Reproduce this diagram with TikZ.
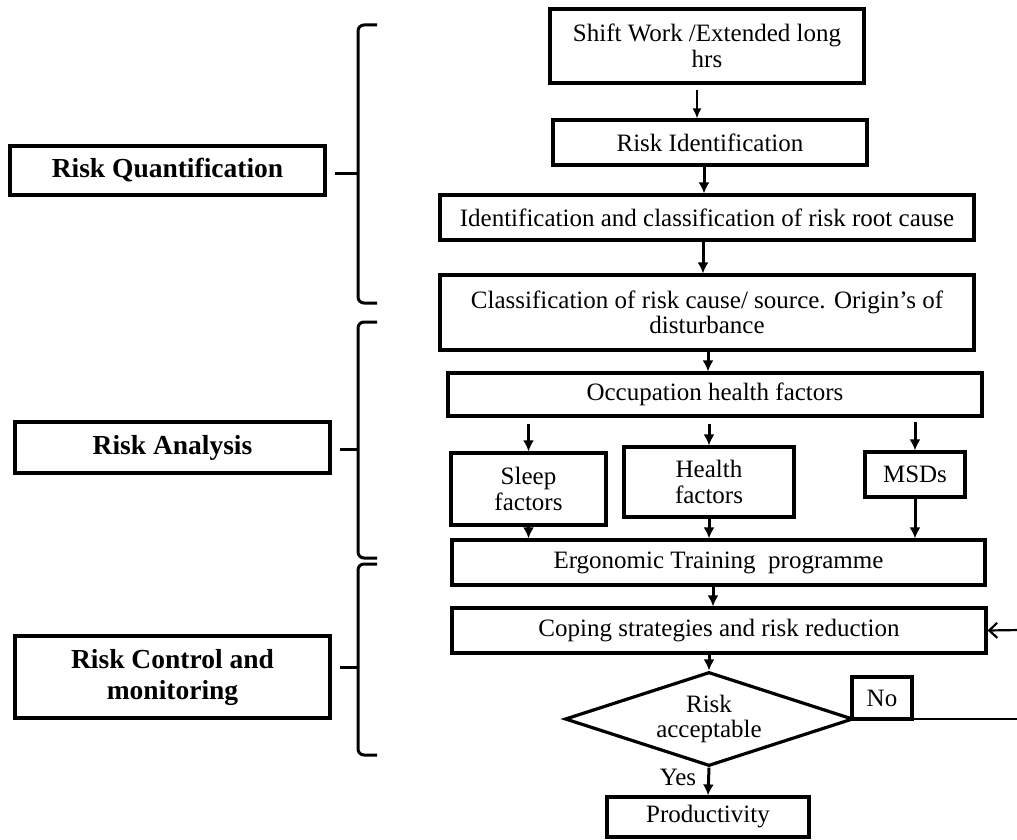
\documentclass[tikz,border=0pt]{standalone}
\usepackage{fontspec}
\setmainfont{Liberation Serif}
\usetikzlibrary{shapes.geometric, arrows.meta}

\begin{document}
\begin{tikzpicture}[x=1pt, y=-1pt,
	box/.style={draw=black, line width=3.2pt, inner sep=0pt, align=center, font=\fontsize{25}{25.5}\selectfont},
	sidebox/.style={box, line width=3.6pt, font=\fontsize{27.5}{31}\selectfont\bfseries},
	arr/.style={-{Latex[length=11pt, width=11pt]}, line width=3pt},
	thinarr/.style={-{Latex[length=10pt, width=9pt]}, line width=1.5pt},
	backarr/.style={-{Straight Barb[length=8pt, width=15pt]}, line width=2.2pt},
	brace/.style={line width=3pt, rounded corners=6pt}]

\useasboundingbox (0, 0) rectangle (1017, 840);

\node[sidebox, minimum width=315, minimum height=49] (quant) at (167.5, 170.5) {Risk Quantification};
\node[sidebox, minimum width=315, minimum height=51] (anal) at (172.5, 447.5) {Risk Analysis};
\node[sidebox, minimum width=315, minimum height=82] (ctrl) at (172.5, 677) {Risk Control and\\monitoring};

\foreach \t/\m/\b/\l in {25/173/303/335, 322/449/558/340, 564/667/755/340} {
	\draw[brace] (377, \t) -- (358, \t) -- (358, \b) -- (377, \b);
	\draw[line width=3pt] (\l, \m) -- (358, \m);
}

\node[box, minimum width=314, minimum height=74] (shift) at (707, 46) {Shift Work /Extended long\\hrs};
\node[box, minimum width=314, minimum height=45] (riskid) at (710, 142.5) {Risk Identification};
\node[box, minimum width=534, minimum height=45] (ident) at (707, 217.5) {Identification and classification of risk root cause};
\node[box, minimum width=534, minimum height=75] (classif) at (707, 312.5) {Classification of risk cause/ source. Origin’s of\\disturbance};
\node[box, minimum width=534, minimum height=43] (occ) at (715, 394.5) {Occupation health factors};

\node[box, minimum width=155, minimum height=72] (sleep) at (528.5, 489) {Sleep\\factors};
\node[box, minimum width=170, minimum height=70] (health) at (709, 482) {Health\\factors};
\node[box, minimum width=100, minimum height=45] (msds) at (915, 474.5) {MSDs};

\node[box, minimum width=533, minimum height=45] (ergo) at (718.5, 562.5) {Ergonomic Training~ programme};
\node[box, minimum width=534, minimum height=45] (cope) at (719, 630.5) {Coping strategies and risk reduction};

\node[box, diamond, aspect=3, minimum width=288, minimum height=94] (dec) at (709, 719) {Risk\\acceptable};
\node[box, minimum width=60, minimum height=42] (no) at (882, 698) {No};
\node[font=\fontsize{25}{25.5}\selectfont] (yes) at (678, 777) {Yes};
\node[box, minimum width=202, minimum height=40] (prod) at (708, 817) {Productivity};

\draw[thinarr, shorten <=5pt] (shift.south -| 697, 0) -- (697, 0 |- riskid.north);
\draw[arr] (riskid.south -| 704, 0) -- (704, 0 |- ident.north);
\draw[arr] (ident.south -| 703, 0) -- (703, 0 |- classif.north);
\draw[arr] (classif.south -| 708, 0) -- (708, 0 |- occ.north);

\draw[arr, shorten <=6pt] (occ.south -| sleep.north) -- (sleep.north);
\draw[arr, shorten <=6pt] (occ.south -| health.north) -- (health.north);
\draw[arr, shorten <=4pt] (occ.south -| msds.north) -- (msds.north);

\draw[arr] (sleep.south) -- (sleep.south |- ergo.north);
\draw[arr] (health.south) -- (health.south |- ergo.north);
\draw[arr] (msds.south) -- (msds.south |- ergo.north);

\draw[arr] (ergo.south -| 713, 0) -- (713, 0 |- cope.north);
\draw[arr] (cope.south -| dec.north) -- (dec.north);
\draw[arr] (dec.south) -- (prod.north);

\coordinate (fbout) at (1020, 719);
\coordinate (fbin) at (1020, 630);
\draw[line width=2.2pt] (dec.east) -- (fbout);
\draw[backarr] (fbin) -- (cope.east);

\end{tikzpicture}
\end{document}
